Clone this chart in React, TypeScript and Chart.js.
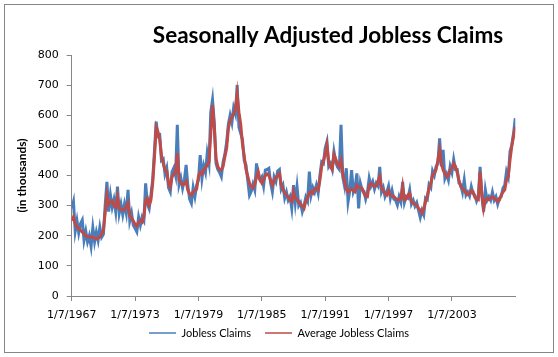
import React, { useEffect, useRef } from "react";
import { Chart, registerables } from "chart.js";

Chart.register(...registerables);

const TITLE = "Seasonally Adjusted Jobless Claims";
const Y_TITLE = "(in thousands)";
const START_YEAR = 1967;
const SAMPLES_PER_YEAR = 6;
const TICK_YEARS = [1967, 1973, 1979, 1985, 1991, 1997, 2003];
const TICK_PREFIX = "1/7/";
const SERIES_NAMES = ["Jobless Claims", "Average Jobless Claims"];

const JOBLESS_CLAIMS = [
  290, 313, 215, 250, 210, 240, // 1967
  252, 185, 215, 180, 200, 165, // 1968
  226, 180, 212, 185, 228, 195, // 1969
  205, 300, 379, 280, 335, 295, // 1970
  320, 280, 363, 275, 305, 270, // 1971
  305, 275, 352, 250, 275, 235, // 1972
  225, 213, 262, 235, 262, 250, // 1973
  374, 305, 290, 335, 385, 480, // 1974
  579, 530, 534, 450, 455, 405, // 1975
  425, 360, 346, 412, 425, 400, // 1976
  568, 370, 392, 358, 385, 435, // 1977
  365, 322, 308, 360, 330, 368, // 1978
  385, 468, 390, 432, 410, 474, // 1979
  440, 610, 651, 575, 440, 420, // 1980
  410, 396, 445, 470, 510, 570, // 1981
  600, 575, 625, 605, 700, 560, // 1982
  540, 520, 450, 435, 385, 335, // 1983
  348, 372, 352, 440, 395, 385, // 1984
  395, 365, 418, 420, 424, 375, // 1985
  346, 395, 380, 415, 420, 355, // 1986
  368, 325, 345, 318, 330, 291, // 1987
  368, 310, 363, 300, 310, 280, // 1988
  300, 328, 315, 413, 335, 360, // 1989
  345, 368, 342, 400, 445, 440, // 1990
  490, 512, 430, 440, 420, 479, // 1991
  445, 428, 420, 568, 395, 365, // 1992
  424, 313, 350, 418, 345, 360, // 1993
  407, 291, 374, 352, 348, 322, // 1994
  345, 391, 365, 380, 355, 375, // 1995
  365, 429, 345, 360, 330, 345, // 1996
  365, 325, 350, 322, 318, 302, // 1997
  330, 312, 379, 310, 330, 325, // 1998
  352, 305, 318, 298, 310, 285, // 1999
  261, 285, 270, 325, 320, 370, // 2000
  360, 415, 400, 430, 440, 523, // 2001
  430, 485, 390, 405, 385, 430, // 2002
  410, 453, 420, 420, 375, 370, // 2003
  345, 385, 335, 345, 332, 363, // 2004
  340, 335, 315, 330, 429, 330, // 2005
  280, 352, 318, 330, 318, 345, // 2006
  318, 330, 305, 325, 330, 358, // 2007
  368, 413, 395, 480, 501, 540, // 2008
  590, // 2009
];

const AVERAGE_CLAIMS = [
  250, 262, 240, 228, 225, 218, // 1967
  213, 205, 200, 197, 197, 195, // 1968
  195, 192, 190, 193, 196, 205, // 1969
  218, 275, 335, 305, 312, 315, // 1970
  300, 296, 330, 292, 288, 285, // 1971
  288, 295, 308, 265, 258, 250, // 1972
  238, 232, 245, 250, 245, 262, // 1973
  318, 325, 302, 318, 375, 460, // 1974
  560, 545, 520, 465, 440, 418, // 1975
  415, 375, 362, 395, 405, 410, // 1976
  474, 385, 375, 370, 372, 380, // 1977
  350, 340, 335, 345, 350, 355, // 1978
  398, 410, 405, 418, 425, 435, // 1979
  445, 540, 634, 560, 455, 430, // 1980
  420, 418, 430, 462, 490, 555, // 1981
  584, 595, 605, 620, 670, 610, // 1982
  570, 505, 465, 420, 398, 375, // 1983
  362, 358, 370, 395, 412, 385, // 1984
  375, 385, 400, 405, 400, 385, // 1985
  368, 385, 392, 400, 407, 370, // 1986
  355, 341, 335, 330, 319, 313, // 1987
  346, 325, 320, 312, 305, 298, // 1988
  291, 315, 325, 343, 346, 341, // 1989
  355, 357, 352, 385, 430, 448, // 1990
  470, 501, 445, 428, 420, 470, // 1991
  455, 438, 430, 450, 405, 380, // 1992
  355, 345, 352, 355, 350, 346, // 1993
  368, 362, 360, 357, 341, 332, // 1994
  330, 368, 374, 370, 363, 366, // 1995
  380, 396, 357, 350, 340, 335, // 1996
  350, 335, 332, 330, 324, 320, // 1997
  320, 322, 363, 319, 322, 335, // 1998
  341, 313, 308, 305, 302, 291, // 1999
  285, 275, 290, 313, 330, 357, // 2000
  374, 402, 407, 420, 450, 485, // 2001
  440, 418, 405, 396, 400, 420, // 2002
  425, 440, 430, 410, 385, 363, // 2003
  355, 352, 341, 337, 340, 350, // 2004
  346, 328, 322, 320, 413, 340, // 2005
  291, 320, 324, 320, 326, 330, // 2006
  325, 320, 313, 319, 335, 345, // 2007
  352, 385, 396, 452, 498, 530, // 2008
  562, // 2009
];

const toPoints = (vals: number[]) =>
  vals.map((v, i) => ({ x: START_YEAR + i / SAMPLES_PER_YEAR, y: v }));

const AXIS_COLOR = "#868686";

const titlePlugin = {
  id: "customTitle",
  afterLayout(chart: any) {
    // move the legend block up so that its row sits just below the axis labels
    if (chart.legend) {
      const dy = 313.5 - chart.legend.top;
      chart.legend.top += dy;
      chart.legend.bottom += dy;
    }
  },
  afterDraw(chart: any) {
    const ctx = chart.ctx;
    ctx.save();
    ctx.font = "bold 22.5px Lato";
    ctx.fillStyle = "#000000";
    ctx.textAlign = "center";
    ctx.textBaseline = "middle";
    ctx.fillText(TITLE, 328, 36);
    ctx.restore();
  },
};

export default function App() {
  const ref = useRef<HTMLCanvasElement | null>(null);

  useEffect(() => {
    if (!ref.current) return;
    const lastX = START_YEAR + (AVERAGE_CLAIMS.length - 1) / SAMPLES_PER_YEAR;
    const chart = new Chart(ref.current, {
      type: "line",
      data: {
        datasets: [
          {
            label: SERIES_NAMES[0],
            data: toPoints(JOBLESS_CLAIMS),
            borderColor: "#4A7EBB",
            backgroundColor: "#4A7EBB",
            borderWidth: 3,
            pointRadius: 0,
            tension: 0,
            order: 2,
          },
          {
            label: SERIES_NAMES[1],
            data: toPoints(AVERAGE_CLAIMS),
            borderColor: "#BE4B48",
            backgroundColor: "#BE4B48",
            borderWidth: 3,
            pointRadius: 0,
            tension: 0,
            order: 1,
          },
        ],
      },
      options: {
        animation: false,
        responsive: false,
        maintainAspectRatio: false,
        devicePixelRatio: 1,
        layout: { padding: { top: 55, bottom: 0, left: 0, right: 0 } },
        plugins: {
          title: { display: false },
          tooltip: { enabled: false },
          legend: {
            display: true,
            position: "bottom",
            labels: {
              usePointStyle: true,
              pointStyle: "line",
              pointStyleWidth: 27,
              padding: 14,
              color: "#000000",
              font: { family: "Lato", size: 11 },
              sort: (a: any, b: any) => a.datasetIndex - b.datasetIndex,
              generateLabels: (c: any) =>
                Chart.defaults.plugins.legend.labels
                  .generateLabels(c)
                  .map((l: any) => ({ ...l, lineWidth: 1.3 })),
            },
          },
        },
        scales: {
          x: {
            type: "linear",
            min: START_YEAR,
            max: lastX,
            afterBuildTicks: (s: any) => {
              s.ticks = TICK_YEARS.map((v) => ({ value: v }));
            },
            afterFit: (s: any) => {
              s.height = 26;
            },
            ticks: {
              autoSkip: false,
              maxRotation: 0,
              padding: 7.5,
              color: "#000000",
              font: { family: "DejaVu Sans", size: 11 },
              callback: (v: any) => TICK_PREFIX + v,
            },
            grid: {
              drawOnChartArea: false,
              drawTicks: true,
              tickLength: 5,
              color: AXIS_COLOR,
            },
            border: { display: true, color: AXIS_COLOR, width: 1 },
          },
          y: {
            type: "linear",
            position: "left",
            min: 0,
            max: 800,
            afterFit: (s: any) => {
              s.width = 71.7;
            },
            ticks: {
              stepSize: 100,
              padding: 8,
              color: "#000000",
              font: { family: "DejaVu Sans", size: 11 },
            },
            grid: {
              drawOnChartArea: false,
              drawTicks: true,
              tickLength: 5,
              color: AXIS_COLOR,
            },
            border: { display: true, color: AXIS_COLOR, width: 1 },
            title: {
              display: true,
              text: Y_TITLE,
              color: "#000000",
              font: { family: "Lato", size: 12, weight: "bold" },
              padding: { top: 15, bottom: 0 },
            },
          },
          yRight: {
            type: "linear",
            position: "right",
            display: true,
            min: 0,
            max: 800,
            afterFit: (s: any) => {
              s.width = 558 - 515.3;
            },
            ticks: { display: false },
            grid: { display: false, drawTicks: false },
            border: { display: false },
          },
        },
      },
      plugins: [titlePlugin],
    });
    return () => chart.destroy();
  }, []);

  return (
    <div
      style={{
        position: "fixed",
        left: 0,
        top: 0,
        width: 558,
        height: 357,
        background: "#ffffff",
      }}
    >
      <canvas ref={ref} width={558} height={357} style={{ position: "absolute", left: 0, top: 0 }} />
      <div
        style={{
          position: "absolute",
          left: 4,
          top: 4,
          width: 550,
          height: 349,
          boxSizing: "border-box",
          border: "1px solid #868686",
          pointerEvents: "none",
        }}
      />
    </div>
  );
}
